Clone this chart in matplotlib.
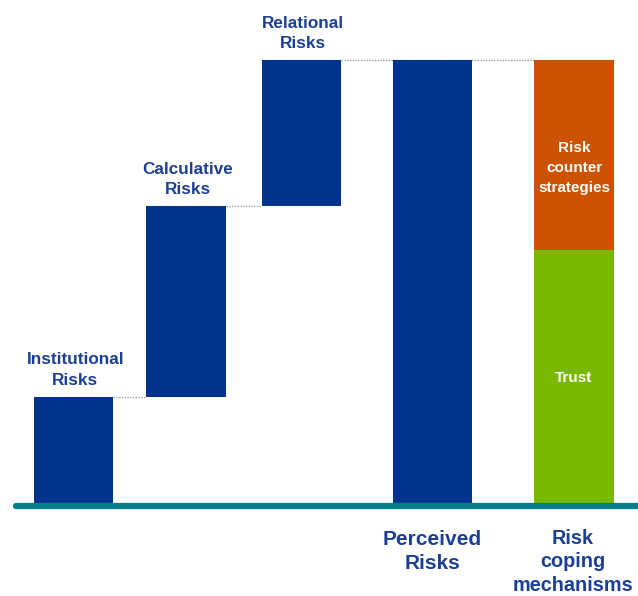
import matplotlib
matplotlib.use("Agg")
import matplotlib.pyplot as plt

plt.rcParams['font.family'] = ['Liberation Sans', 'DejaVu Sans']

# ---- data ----
risk_labels = ["Institutional\nRisks", "Calculative\nRisks", "Relational\nRisks"]
risk_values = [24, 43, 33]
total_label = "Perceived\nRisks"
coping_label = "Risk\ncoping\nmechanisms"
coping_labels = ["Trust", "Risk\ncounter\nstrategies"]
coping_values = [57, 43]

# ---- layout ----
x_risks = [0.0, 0.99, 2.0]
x_total = 3.15
x_coping = 4.39
width = 0.70

navy = "#00338D"
label_blue = "#1B3F94"
orange = "#CC5200"
green = "#7AB800"
teal = "#007C8A"

fig = plt.figure(figsize=(6.38, 5.96), dpi=100)
ax = fig.add_axes([0, 0, 1, 1])
ax.set_xlim(-73.5 / 114, (638 - 73.5) / 114)
ax.set_ylim(-(596 - 503) / 4.43, 503 / 4.43)
ax.axis("off")

# waterfall bars
bottom = 0
tops = []
for x, v, lab in zip(x_risks, risk_values, risk_labels):
    ax.bar(x, v, width=width, bottom=bottom, color=navy, edgecolor="none", zorder=3)
    top = bottom + v
    ax.text(x + 0.015, top + 2.0, lab, ha="center", va="bottom", color=label_blue,
            fontsize=12.3, fontweight="bold", linespacing=1.45)
    tops.append(top)
    bottom = top
total = bottom

# dotted connectors
for i in range(len(x_risks) - 1):
    ax.plot([x_risks[i] + width / 2, x_risks[i + 1] - width / 2], [tops[i], tops[i]],
            ls=(0, (1, 1)), color="#A0A0A0", lw=1, zorder=2)
ax.plot([x_risks[-1] + width / 2, x_coping + width / 2], [total, total],
        ls=(0, (1, 1)), color="#A0A0A0", lw=1, zorder=2)

# total bar
ax.bar(x_total, total, width=width, color=navy, edgecolor="none", zorder=3)

# stacked coping bar
b = 0
stack_colors = [green, orange]
for v, lab, c in zip(coping_values, coping_labels, stack_colors):
    ax.bar(x_coping, v, width=width, bottom=b, color=c, edgecolor="none", zorder=3)
    b += v
ax.text(x_coping, 28.2, coping_labels[0], ha="center", va="center", color="white",
        fontsize=11, fontweight="bold")
ax.text(x_coping, 75.6, coping_labels[1], ha="center", va="center", color="white",
        fontsize=11, fontweight="bold", linespacing=1.55)

# baseline
ax.plot([-58 / 114, (640 - 73.5) / 114], [-0.6, -0.6], color=teal, lw=4.5,
        solid_capstyle="round", zorder=4)

# bottom labels
ax.text(x_total, -6.0, total_label, ha="center", va="top", color=label_blue,
        fontsize=15, fontweight="bold", linespacing=1.38)
ax.text(x_coping - 0.01, -5.8, coping_label, ha="center", va="top", color=label_blue,
        fontsize=14.3, fontweight="bold", linespacing=1.3)

fig.savefig("out.png", dpi=100)
